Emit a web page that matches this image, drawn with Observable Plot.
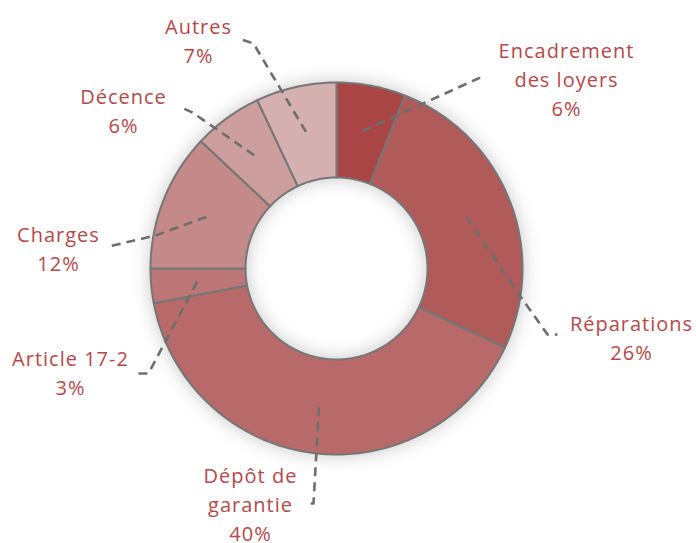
<!DOCTYPE html>
<html>
<head>
<meta charset="utf-8">
<script src="https://cdn.jsdelivr.net/npm/d3@7"></script>
<script src="https://cdn.jsdelivr.net/npm/@observablehq/plot@0.6"></script>
<style>
  html, body { margin: 0; padding: 0; background: #ffffff; }
  #chart svg { display: block; }
</style>
</head>
<body>
<div id="chart"></div>
<script>
// ---- data ----
const categories = ["Encadrement des loyers", "Réparations", "Dépôt de garantie", "Article 17-2", "Charges", "Décence", "Autres"];
const shares = [6, 26, 40, 3, 12, 6, 7];
const labelTexts = ["Encadrement\ndes loyers", "Réparations", "Dépôt de\ngarantie", "Article 17-2", "Charges", "Décence", "Autres"];

// ---- style ----
const sliceColors = ["#a94645", "#b05a5a", "#b86a6a", "#bc7676", "#c48a8a", "#cc9e9e", "#d4b0b0"];
const textColor = "#b5484a";

// ---- layout (pixel frame) ----
const W = 696, H = 543;
const cx = 336, cy = 268, rOuter = 186, rInner = 91, rLeader = 140;
const labelAnchor = [[566, 77], [631, 336], [250, 502], [70, 371], [58, 247], [123, 109], [198, 39]];
const leaderBends = [
  [[482, 76]],
  [[520, 296], [547, 334], [557, 334]],
  [[313, 503], [306, 503]],
  [[148, 373], [137, 373]],
  [[155, 235], [108, 246]],
  [[192, 112], [183, 108]],
  [[253, 43], [241, 39]]
];

const pie = d3.pie().sort(null).value(d => d)(shares);
const pt = (a, r) => [cx + r * Math.sin(a), cy - r * Math.cos(a)];

// slice outlines
const slicePts = [];
pie.forEach((p, i) => {
  const n = Math.max(4, Math.ceil((p.endAngle - p.startAngle) / (Math.PI / 180)));
  for (let k = 0; k <= n; k++) {
    const a = p.startAngle + (p.endAngle - p.startAngle) * k / n;
    const [x, y] = pt(a, rOuter);
    slicePts.push({cat: categories[i], color: sliceColors[i], x, y});
  }
  for (let k = n; k >= 0; k--) {
    const a = p.startAngle + (p.endAngle - p.startAngle) * k / n;
    const [x, y] = pt(a, rInner);
    slicePts.push({cat: categories[i], color: sliceColors[i], x, y});
  }
});

// leader lines
const leaderPts = [];
pie.forEach((p, i) => {
  const mid = (p.startAngle + p.endAngle) / 2;
  const [x0, y0] = pt(mid, rLeader);
  leaderPts.push({cat: categories[i], x: x0, y: y0});
  leaderBends[i].forEach(([x, y]) => leaderPts.push({cat: categories[i], x, y}));
});

// labels
const labels = categories.map((c, i) => ({
  text: labelTexts[i] + "\n" + shares[i] + "%",
  x: labelAnchor[i][0],
  y: labelAnchor[i][1]
}));

const chart = Plot.plot({
  width: W,
  height: H,
  margin: 0,
  x: {domain: [0, W], range: [0, W], axis: null},
  y: {domain: [0, H], range: [0, H], axis: null},
  style: "font-family: 'Open Sans', sans-serif; letter-spacing: 1px; background: #ffffff; overflow: visible;",
  marks: [
    Plot.line(slicePts, {
      x: "x", y: "y", z: "cat",
      fill: "color",
      stroke: "#767676",
      strokeWidth: 2,
      curve: "linear-closed"
    }),
    Plot.line(leaderPts, {
      x: "x", y: "y", z: "cat",
      stroke: "#6e6e6e",
      strokeWidth: 2.6,
      strokeDasharray: "9,6",
      strokeLinecap: "butt",
      curve: "linear"
    }),
    Plot.text(labels, {
      x: "x", y: "y", text: "text",
      fill: textColor,
      fontSize: 20,
      lineHeight: 1.46,
      textAnchor: "middle",
      lineAnchor: "middle"
    })
  ]
});

const lineGroups = chart.querySelectorAll('g[aria-label="line"]');
if (lineGroups[0]) lineGroups[0].style.filter = "drop-shadow(0px 0px 9px rgba(0,0,0,0.22))";

document.getElementById("chart").appendChild(chart);
</script>
</body>
</html>
